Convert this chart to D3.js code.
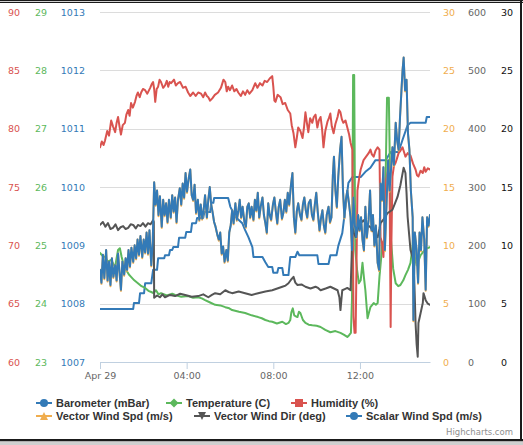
<!DOCTYPE html>
<html><head><meta charset="utf-8">
<script src="https://cdn.jsdelivr.net/npm/d3@7"></script>
<style>html,body{margin:0;padding:0;background:#fff;}svg{display:block;}</style>
</head><body>
<svg id="c" width="523" height="445"></svg>
<script>
// ---- data (time = minutes after midnight, Apr 29) ----
const seriesNames = ["Barometer (mBar)","Temperature (C)","Humidity (%)","Vector Wind Spd (m/s)","Vector Wind Dir (deg)","Scalar Wind Spd (m/s)"];
const seriesColors = ["#337ab7","#5cb85c","#d9534f","#f0ad4e","#555555","#337ab7"];
const xTickTimes = [0,240,480,720];
const xTickLabels = ["Apr 29","04:00","08:00","12:00"];
const humTicks = [60,65,70,75,80,85,90];
const tempTicks = [23,24,25,26,27,28,29];
const baroTicks = [1007,1008,1009,1010,1011,1012,1013];
const vwsTicks = [0,5,10,15,20,25,30];
const dirTicks = [0,100,200,300,400,500,600];
const swsTicks = [0,5,10,15,20,25,30];

const barometer = [[0,1007.91],[92,1007.91],[94,1008.01],[108,1008.01],[111,1008.18],[122,1008.18],[125,1008.35],[142,1008.35],[147,1008.58],[158,1008.58],[161,1008.78],[178,1008.78],[180,1008.83],[191,1008.83],[194,1008.92],[200,1008.92],[203,1008.97],[216,1008.97],[219,1009.13],[236,1009.13],[239,1009.23],[252,1009.23],[255,1009.38],[266,1009.38],[269,1009.47],[286,1009.47],[289,1009.57],[305,1009.57],[308,1009.73],[314,1009.73],[316,1009.81],[355,1009.81],[361,1009.66],[375,1009.49],[394,1009.38],[402,1009.26],[411,1009.14],[422,1008.97],[425,1008.80],[450,1008.80],[458,1008.71],[466,1008.63],[477,1008.63],[480,1008.53],[491,1008.53],[494,1008.61],[505,1008.61],[508,1008.49],[522,1008.49],[527,1008.80],[541,1008.80],[547,1008.89],[552,1008.83],[602,1008.83],[605,1008.68],[633,1008.68],[638,1008.83],[655,1008.83],[660,1008.99],[671,1009.21],[680,1009.66],[688,1010.07],[699,1010.17],[722,1010.17],[735,1010.26],[749,1010.33],[763,1010.46],[791,1010.46],[805,1010.60],[827,1010.60],[838,1010.81],[852,1011.06],[860,1011.10],[902,1011.10],[905,1011.20],[914,1011.20]];

const temperature = [[0,24.87],[7,24.82],[14,24.80],[22,24.72],[31,24.75],[37,24.68],[42,24.63],[46,24.78],[50,24.92],[55,24.95],[60,24.80],[64,24.70],[68,24.62],[72,24.58],[80,24.50],[86,24.46],[95,24.40],[105,24.35],[115,24.30],[125,24.27],[134,24.22],[142,24.20],[148,24.18],[155,24.23],[162,24.16],[169,24.18],[185,24.14],[200,24.17],[208,24.15],[225,24.12],[244,24.13],[258,24.10],[272,24.11],[282,24.09],[291,24.06],[305,24.02],[319,23.98],[333,23.97],[347,23.94],[358,23.92],[366,23.89],[385,23.86],[402,23.84],[420,23.80],[438,23.77],[448,23.75],[458,23.72],[468,23.70],[477,23.69],[490,23.66],[505,23.69],[515,23.65],[522,23.67],[527,23.72],[530,23.85],[534,23.92],[538,23.80],[543,23.78],[547,23.77],[551,23.86],[555,23.84],[562,23.72],[569,23.67],[578,23.64],[588,23.63],[600,23.62],[611,23.60],[624,23.55],[638,23.51],[652,23.53],[666,23.50],[675,23.47],[685,23.43],[690,23.46],[695,23.50],[698,24.10],[701,27.92],[704,27.92],[707,24.92],[712,24.58],[717,24.35],[722,24.40],[727,24.70],[731,24.45],[735,24.23],[741,23.75],[745,23.85],[749,23.94],[758,24.01],[764,23.98],[769,24.01],[774,24.46],[779,24.80],[782,25.04],[788,25.09],[795,27.53],[800,27.53],[806,25.09],[812,24.60],[819,24.35],[826,24.30],[832,24.32],[840,24.40],[846,24.49],[853,24.58],[860,24.70],[866,25.00],[868,25.21],[872,24.80],[877,24.66],[883,24.75],[888,24.83],[894,24.88],[899,24.92],[906,24.95],[914,24.97]];

const humidity = [[0,78.4],[5,78.9],[10,78.6],[14,79.0],[20,79.8],[25,79.4],[31,80.7],[36,80.2],[42,79.7],[46,80.5],[50,81.0],[54,80.2],[58,79.5],[63,80.3],[69,80.5],[73,81.2],[78,81.6],[82,81.1],[86,82.2],[91,81.8],[97,82.3],[101,82.8],[105,83.1],[110,82.7],[114,83.1],[119,83.4],[125,83.3],[131,83.0],[139,83.5],[143,83.8],[147,84.0],[150,83.4],[153,82.3],[157,83.4],[161,83.6],[165,84.2],[169,84.0],[175,83.5],[180,83.7],[185,84.1],[189,83.6],[193,84.0],[197,83.9],[205,84.2],[210,83.7],[216,83.9],[222,84.0],[230,83.5],[237,83.6],[244,83.1],[250,82.8],[258,83.1],[265,82.8],[272,83.1],[280,83.0],[286,82.7],[291,83.1],[296,82.8],[300,82.7],[305,82.4],[311,82.6],[318,82.9],[327,83.1],[335,83.5],[342,84.2],[347,84.0],[351,83.2],[355,83.6],[360,83.3],[366,83.7],[372,83.2],[378,83.4],[383,83.1],[390,82.8],[396,83.2],[402,82.9],[408,83.3],[414,83.0],[422,83.3],[426,83.6],[430,83.9],[436,83.5],[443,83.9],[450,83.7],[456,84.1],[463,84.0],[470,84.3],[477,84.5],[480,83.6],[483,82.4],[486,82.3],[492,82.9],[500,82.7],[506,82.1],[513,82.2],[520,81.6],[527,81.3],[531,80.3],[536,79.6],[541,78.4],[545,79.2],[549,80.1],[555,79.8],[561,79.2],[565,80.1],[569,81.4],[573,80.5],[577,79.7],[582,80.9],[588,80.5],[592,81.0],[597,81.2],[602,80.1],[606,80.7],[611,81.0],[615,80.0],[619,78.4],[624,79.8],[630,80.6],[634,80.9],[638,81.3],[642,80.2],[647,79.6],[652,80.4],[658,81.0],[662,81.6],[666,81.4],[670,80.8],[674,80.5],[680,80.7],[685,80.1],[690,79.5],[694,78.8],[699,78.2],[702,63.9],[705,62.5],[708,62.5],[713,74.7],[718,75.8],[722,76.5],[726,76.9],[730,77.3],[737,77.6],[744,77.9],[749,78.2],[753,77.8],[758,77.6],[763,78.1],[769,78.4],[774,78.2],[777,70.7],[781,70.2],[785,69.0],[788,72.0],[791,75.3],[795,76.0],[799,76.5],[802,75.5],[805,63.0],[807,70.0],[810,75.9],[814,76.8],[819,77.1],[823,77.5],[827,77.9],[832,78.1],[838,78.4],[842,78.0],[846,77.6],[852,77.9],[860,77.7],[867,77.0],[874,76.5],[878,76.0],[882,75.9],[888,76.4],[894,76.2],[898,76.7],[902,76.3],[908,76.6],[914,76.5]];

const windDir = [[0,235],[8,240],[15,232],[22,238],[29,228],[36,230],[43,236],[50,226],[57,231],[64,233],[71,228],[78,230],[85,236],[92,235],[99,229],[105,235],[112,233],[119,238],[126,232],[133,238],[140,236],[147,243],[149,240],[150,110],[158,114],[166,111],[173,116],[180,111],[194,115],[208,113],[222,117],[236,115],[254,112],[272,113],[286,116],[300,111],[310,115],[319,118],[333,116],[347,123],[356,120],[366,118],[384,121],[402,118],[420,115],[438,118],[458,121],[477,123],[491,126],[505,129],[514,131],[522,135],[529,141],[536,146],[541,136],[547,132],[558,133],[569,129],[583,126],[597,129],[604,127],[611,123],[625,126],[638,129],[648,126],[658,123],[663,111],[666,89],[669,110],[671,123],[678,125],[685,127],[694,123],[697,180],[699,230],[703,222],[708,214],[715,230],[722,238],[730,243],[735,238],[741,235],[749,231],[759,222],[769,214],[774,228],[777,238],[786,245],[796,255],[803,258],[810,261],[817,272],[824,283],[832,303],[837,320],[841,333],[846,324],[849,290],[852,249],[856,220],[860,192],[868,175],[871,130],[874,67],[877,30],[880,9],[882,67],[888,84],[894,101],[896,118],[902,106],[908,100],[914,98]];

const windTimes = [0,4,8,12,17,21,25,29,33,37,42,46,50,54,58,62,67,71,75,79,83,87,92,96,100,104,108,112,117,121,125,129,133,137,142,146,150,154,158,162,166,171,175,179,183,187,191,196,200,204,208,212,216,221,225,229,233,237,241,246,250,254,258,262,266,271,275,279,283,287,291,296,300,304,308,312,316,320,325,329,333,337,341,345,350,354,358,362,366,370,375,379,383,387,391,395,400,404,408,412,416,420,425,429,433,437,441,445,450,454,458,462,466,470,474,479,483,487,491,495,499,504,508,512,516,520,524,529,533,537,541,545,549,554,558,562,566,570,574,578,583,587,591,595,599,603,608,612,616,620,624,628,633,637,641,645,648,652,656,660,665,669,673,677,681,685,690,694,698,702,706,710,715,719,723,727,731,735,739,744,748,752,756,760,764,769,773,777,781,785,789,794,798,802,806,810,814,819,823,827,831,835,838,841,845,849,853,857,861,866,868,872,877,881,885,889,893,898,902,906,910,914];

const scalarWind = [7.9,6.8,9.2,7.2,9.6,7.0,8.6,6.6,8.9,7.3,8.3,7.0,9.3,7.7,6.2,8.6,7.5,8.9,7.9,9.6,8.2,9.8,8.6,10.0,8.9,10.5,9.2,10.8,9.0,10.5,9.4,11.1,9.3,11.3,8.3,10.2,15.4,13.5,14.7,12.6,14.2,11.6,13.9,12.6,13.6,12.0,13.9,12.4,14.3,12.9,14.1,12.0,13.9,14.9,13.5,15.3,14.1,16.2,14.6,15.8,16.5,14.3,13.9,15.2,12.8,13.9,12.2,13.5,12.3,13.0,14.3,12.4,13.9,15.0,13.5,12.8,12.0,11.6,10.9,10.5,11.1,9.3,9.9,8.6,9.6,8.7,11.1,11.7,13.0,11.9,13.6,12.2,12.9,13.9,12.4,13.3,12.0,11.6,13.3,13.6,12.4,13.3,12.2,13.9,13.0,14.5,12.4,13.3,14.1,12.6,11.9,11.1,13.6,12.6,12.2,13.5,14.1,12.9,11.9,13.3,13.9,12.3,12.8,13.9,12.9,14.5,13.5,15.2,16.2,12.4,11.1,12.9,13.6,12.6,12.2,13.5,14.1,13.0,12.4,13.6,13.9,12.6,12.2,13.5,14.5,12.9,11.3,12.3,13.0,11.7,11.1,12.6,13.3,12.0,12.4,16.0,17.6,14.7,13.3,15.9,18.2,19.3,14.7,12.4,13.9,14.7,13.5,12.4,9.6,14.1,11.7,10.7,12.6,11.3,12.4,10.5,9.6,13.3,10.7,12.2,14.7,11.3,12.6,10.0,11.7,8.5,7.9,15.3,13.9,16.7,9.6,13.9,17.3,14.7,16.5,18.4,16.9,20.5,19.0,18.2,21.0,23.3,25.0,26.1,23.3,24.2,19.6,18.2,14.7,12.4,3.6,11.1,9.6,6.8,11.1,9.6,12.4,10.5,6.2,12.4,11.7,12.6];

const vectorWind = [7.9,6.7,9.2,7.1,9.6,6.9,8.6,6.5,8.9,7.2,8.3,6.9,9.3,7.7,6.1,8.6,7.4,8.9,7.8,9.6,8.1,9.8,8.5,10.0,8.8,10.5,9.1,10.8,8.9,10.5,9.3,11.1,9.2,11.3,8.2,10.2,15.4,13.4,14.7,12.5,14.2,11.5,13.9,12.5,13.6,11.9,13.9,12.3,14.3,12.8,14.1,11.9,13.9,14.9,13.4,15.3,14.0,16.2,14.5,15.8,16.5,14.3,13.8,15.2,12.7,13.9,12.1,13.5,12.2,13.0,14.3,12.3,13.9,15.0,13.5,12.8,12.0,11.6,10.9,10.4,11.1,9.2,9.9,8.5,9.6,8.6,11.1,11.7,13.0,11.8,13.6,12.1,12.9,13.9,12.3,13.3,12.0,11.5,13.3,13.6,12.3,13.3,12.1,13.9,12.9,14.5,12.3,13.3,14.1,12.6,11.9,11.0,13.6,12.6,12.1,13.5,14.1,12.9,11.8,13.3,13.9,12.2,12.8,13.9,12.8,14.5,13.4,15.2,16.2,12.4,11.0,12.9,13.6,12.6,12.1,13.5,14.1,13.0,12.3,13.6,13.9,12.6,12.1,13.5,14.5,12.9,11.2,12.3,13.0,11.7,11.0,12.6,13.3,11.9,12.4,16.0,17.6,14.7,13.2,15.9,18.2,19.3,14.7,12.3,13.9,14.7,13.5,12.4,9.5,14.1,11.7,10.6,12.6,11.2,12.4,10.5,9.5,13.3,10.6,12.2,14.7,11.2,12.6,9.9,11.7,8.5,7.8,15.3,13.8,16.7,9.5,13.9,17.3,14.6,16.5,18.4,16.8,20.5,19.0,18.1,21.0,23.3,25.0,26.1,23.2,24.2,19.6,18.2,14.7,12.4,3.5,11.1,9.6,6.7,11.1,9.5,12.4,10.5,6.1,12.4,11.6,12.6];

// ---- layout ----
const svg = d3.select("#c");
const X0 = 100, X1 = 430, Y0 = 12, Y1 = 362;
const AX_FONT = "DejaVu Sans, Verdana, sans-serif";

const x = d3.scaleLinear().domain(d3.extent(windTimes)).range([X0, X1]);
const yBaro = d3.scaleLinear().domain([1007, 1013]).range([Y1, Y0]);
const yTemp = d3.scaleLinear().domain([23, 29]).range([Y1, Y0]);
const yHum  = d3.scaleLinear().domain([60, 90]).range([Y1, Y0]);
const yVws  = d3.scaleLinear().domain([0, 30]).range([Y1, Y0]);
const yDir  = d3.scaleLinear().domain([0, 600]).range([Y1, Y0]);
const ySws  = d3.scaleLinear().domain([0, 30]).range([Y1, Y0]);

svg.append("rect").attr("width",523).attr("height",445).attr("fill","#fff");

// gridlines
svg.append("g").attr("transform",`translate(${X0},0)`)
  .call(d3.axisLeft(yHum).tickValues(humTicks).tickSize(-(X1-X0)).tickFormat(""))
  .call(g=>g.select(".domain").remove())
  .call(g=>g.selectAll("line").attr("stroke","#dcdcdc").attr("shape-rendering","crispEdges"));

// y axes labels
function yLabels(scale, ticks, xpos, right, color){
  const ax = (right ? d3.axisRight(scale) : d3.axisLeft(scale)).tickValues(ticks).tickFormat(d=>String(d)).tickSize(0).tickPadding(0);
  svg.append("g").attr("transform",`translate(${xpos},0)`).call(ax)
    .call(g=>g.select(".domain").remove())
    .call(g=>g.selectAll("text").attr("fill",color).attr("font-family",AX_FONT).attr("font-size","9.5px").attr("dy","0.35em"));
}
yLabels(yHum, humTicks, 20, false, "#d9534f");
yLabels(yTemp, tempTicks, 47, false, "#5cb85c");
yLabels(yBaro, baroTicks, 85, false, "#337ab7");
yLabels(yVws, vwsTicks, 443, true, "#f0ad4e");
yLabels(yDir, dirTicks, 468, true, "#666666");
yLabels(ySws, swsTicks, 501, true, "#111111");

// x axis
svg.append("g").attr("transform",`translate(0,${Y1})`)
  .call(d3.axisBottom(x).tickValues(xTickTimes).tickFormat((d,i)=>xTickLabels[i]).tickSizeInner(7).tickSizeOuter(0).tickPadding(3))
  .call(g=>g.select(".domain").attr("stroke","#c0d0e0"))
  .call(g=>g.selectAll("line").attr("stroke","#c0d0e0"))
  .call(g=>g.selectAll("text").attr("fill","#666").attr("font-family",AX_FONT).attr("font-size","9.5px"));

// clip
svg.append("clipPath").attr("id","pc").append("rect").attr("x",X0).attr("y",Y0-2).attr("width",X1-X0).attr("height",Y1-Y0+4);
const plot = svg.append("g").attr("clip-path","url(#pc)");

function drawLine(data, scale, color){
  plot.append("path").datum(data)
    .attr("d", d3.line().x(d=>x(d[0])).y(d=>scale(d[1])))
    .attr("fill","none").attr("stroke",color).attr("stroke-width",2)
    .attr("stroke-linejoin","round").attr("stroke-linecap","round");
}
const vws = windTimes.map((t,i)=>[t, vectorWind[i]]);
const sws = windTimes.map((t,i)=>[t, scalarWind[i]]);
drawLine(barometer, yBaro, seriesColors[0]);
drawLine(temperature, yTemp, seriesColors[1]);
drawLine(humidity, yHum, seriesColors[2]);
drawLine(vws, yVws, seriesColors[3]);
drawLine(windDir, yDir, seriesColors[4]);
drawLine(sws, ySws, seriesColors[5]);

// legend
const legendItems = [
  {i:0, tx:56, cy:403, sym:"circle"},
  {i:1, tx:186, cy:403, sym:"diamond"},
  {i:2, tx:311, cy:403, sym:"square"},
  {i:3, tx:56, cy:416, sym:"triangle"},
  {i:4, tx:214, cy:416, sym:"triangle-down"},
  {i:5, tx:366, cy:416, sym:"circle"}
];
const symPaths = {
  "diamond":"M0,-4.5L4.5,0L0,4.5L-4.5,0Z",
  "square":"M-4,-4H4V4H-4Z",
  "triangle":"M0,-4L4,4H-4Z",
  "triangle-down":"M-4,-4H4L0,4Z"
};
const lg = svg.append("g");
legendItems.forEach(it=>{
  const c = seriesColors[it.i];
  const sx = it.tx - 20;
  lg.append("line").attr("x1",sx).attr("x2",sx+16).attr("y1",it.cy).attr("y2",it.cy).attr("stroke",c).attr("stroke-width",2);
  if (it.sym==="circle") lg.append("circle").attr("cx",sx+8).attr("cy",it.cy).attr("r",4).attr("fill",c);
  else lg.append("path").attr("d",symPaths[it.sym]).attr("transform",`translate(${sx+8},${it.cy})`).attr("fill",c);
  lg.append("text").attr("x",it.tx).attr("y",it.cy+4).text(seriesNames[it.i])
    .attr("font-family","Liberation Sans, Arial, sans-serif").attr("font-weight","bold").attr("font-size","11px").attr("fill","#333");
});

// credits
svg.append("text").attr("x",513).attr("y",435).attr("text-anchor","end").text("Highcharts.com")
  .attr("font-family",AX_FONT).attr("font-size","8.5px").attr("fill","#909090");

// screenshot frame
svg.append("rect").attr("x",0).attr("y",0).attr("width",523).attr("height",1.2).attr("fill","#1a1a1a");
svg.append("rect").attr("x",0).attr("y",2).attr("width",523).attr("height",1).attr("fill","#1a1a1a");
svg.append("rect").attr("x",520).attr("y",0).attr("width",2).attr("height",441).attr("fill","#1a1a1a");
svg.append("rect").attr("x",0).attr("y",439).attr("width",523).attr("height",2.5).attr("fill","#1a1a1a");
svg.append("rect").attr("x",0).attr("y",441.5).attr("width",523).attr("height",3.5).attr("fill","#cfcfcf");
</script>
</body></html>
